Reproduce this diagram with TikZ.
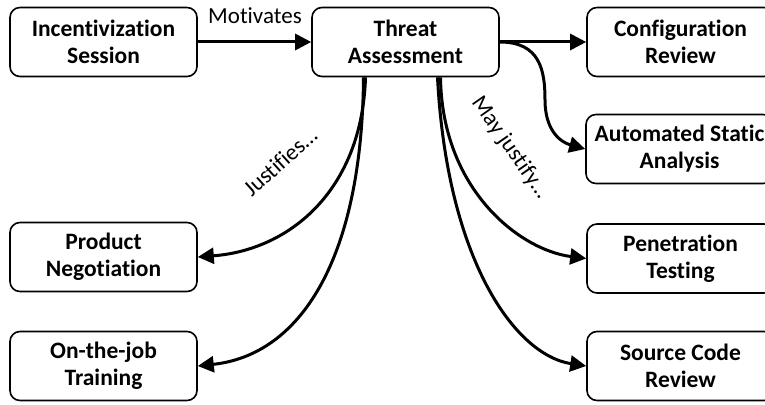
\documentclass[tikz,border=0pt]{standalone}
\usepackage{fontspec}
\setmainfont{Carlito}[Ligatures=NoCommon]
\usetikzlibrary{arrows.meta,calc}
\begin{document}
\begin{tikzpicture}[x=1pt,y=-1pt,
  box/.style={draw,line width=1.6pt,rounded corners=10pt,minimum width=187pt,minimum height=69pt,
    align=center,font=\fontsize{23.5}{27}\selectfont\bfseries,inner sep=0pt},
  arr/.style={line width=3pt,-{Triangle[length=16pt,width=16pt]}},
  lbl/.style={font=\fontsize{23}{26}\selectfont,inner sep=0pt}]
\clip (0,0) rectangle (765,404);
\fill[white] (0,0) rectangle (765,404);
\node[box] (inc) at (103.5,42) {Incentivization\\Session};
\node[box] (ta) at (405.5,42) {Threat\\Assessment};
\node[box] (cr) at (680.5,42) {Configuration\\Review};
\node[box] (asa) at (679.5,149) {Automated Static\\Analysis};
\node[box] (pn) at (103.5,257) {Product\\Negotiation};
\node[box] (ojt) at (103.5,366) {On-the-job\\Training};
\node[box] (pt) at (680.5,258.5) {Penetration\\Testing};
\node[box] (scr) at (680.5,366) {Source Code\\Review};
\draw[arr] (inc) -- (ta);
\node[lbl] (mot) at (255,16) {Motivates};
\draw[arr] (ta) -- (cr);
\draw[arr] (ta.east) .. controls ($(ta.east)+(40,0)$) and (545,70) .. (545,100)
  .. controls (545,130) and (560,142) .. (asa.west);
\draw[arr] ($(ta.south)+(-40,0)$) .. controls (362,190) and (290,250) .. (pn.east);
\draw[arr] ($(ta.south)+(-42,0)$) .. controls (362,260) and (300,355) .. (ojt.east);
\draw[arr] ($(ta.south)+(35,0)$) .. controls (442,190) and (520,250) .. (pt.west);
\draw[arr] ($(ta.south)+(32,0)$) .. controls (447,260) and (515,355) .. (scr.west);
\node[lbl,rotate=42] (jus) at (280,162) {Justifies…};
\node[lbl,rotate=-55] (may) at (510,148) {May justify…};
\end{tikzpicture}
\end{document}
